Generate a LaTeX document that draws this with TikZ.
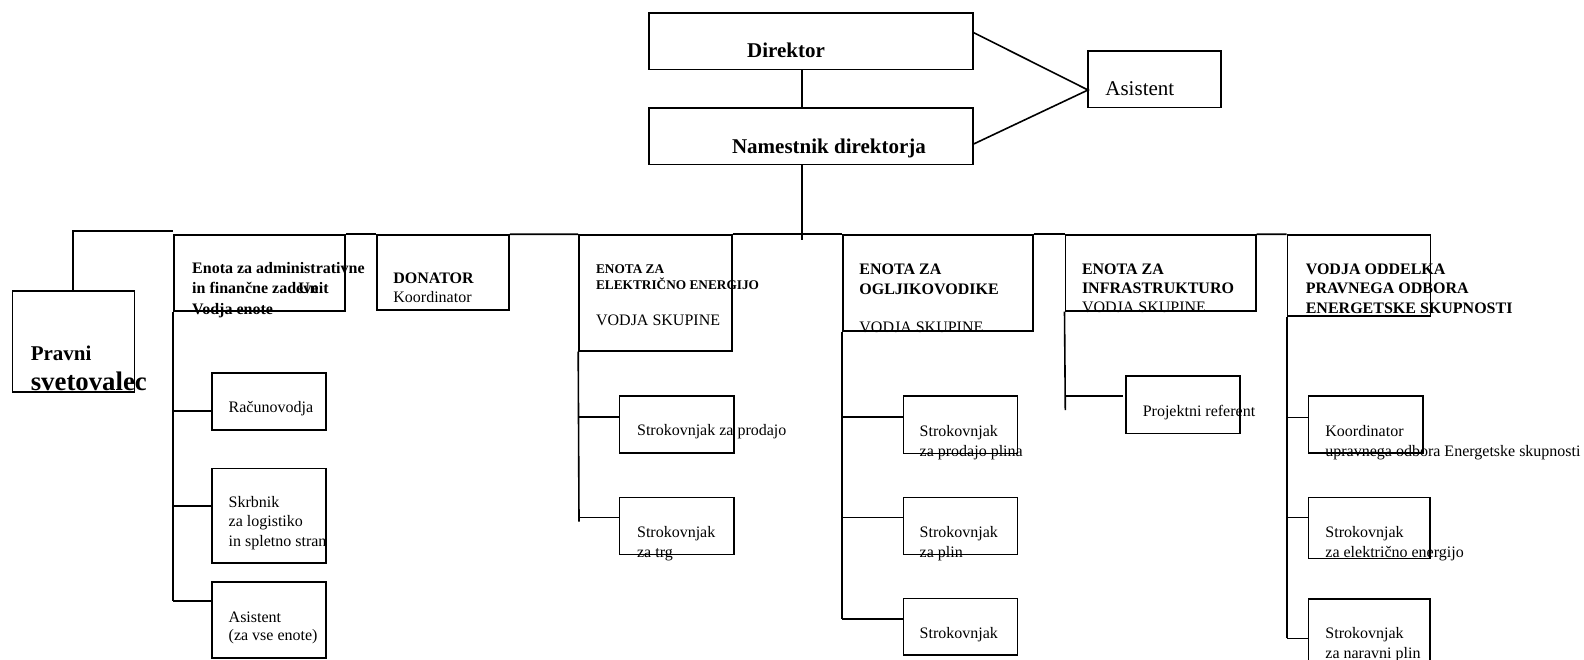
\documentclass[tikz,border=0pt]{standalone}
\usepackage{fontspec}
\setmainfont{Liberation Serif}
\usetikzlibrary{fit,calc}
\newcommand\fTopB{\fontsize{10.5}{12}\selectfont\bfseries}
\newcommand\fTopR{\fontsize{10.5}{12}\selectfont}
\newcommand\fBig{\fontsize{13.4}{15}\selectfont\bfseries}
\newcommand\fMidB{\fontsize{8}{9.6}\selectfont\bfseries}
\newcommand\fMidR{\fontsize{8}{9.6}\selectfont}
\newcommand\fSmB{\fontsize{6.65}{8}\selectfont\bfseries}
\begin{document}
\begin{tikzpicture}[x=0.5pt,y=-0.5pt,
  box/.style={draw,line width=0.8pt,inner sep=0pt,rectangle},
  con/.style={line width=0.8pt},
  txt/.style={inner sep=0pt,anchor=base west,text=black}]
\useasboundingbox (0,0) rectangle (1584,659);
\clip (0,0) rectangle (1584,659);
\fill[white] (0,0) rectangle (1584,659);

% ---- boxes ----
\node[box,fit={(649,12.7)(973,69.3)}] (dir) {};
\node[box,fit={(649,107.7)(973,164.3)}] (nam) {};
\node[box,fit={(1088,50.7)(1221,107.3)}] (asi) {};
\node[box,fit={(12.5,291)(134.6,391.7)}] (prav) {};
\node[box,fit={(174,235)(345,311)}] (adm) {};
\node[box,fit={(377,235)(509,310)}] (don) {};
\node[box,fit={(579,235)(731.7,350.7)}] (el) {};
\node[box,fit={(842.7,235)(1032.7,330.7)}] (ogl) {};
\node[box,fit={(1065.3,235)(1255.8,310.7)}] (inf) {};
\node[box,fit={(1287.5,235)(1430.4,316)}] (vod) {};
\node[box,fit={(211.7,373)(326,430)}] (rac) {};
\node[box,fit={(211.7,468.3)(326,562.7)}] (skr) {};
\node[box,fit={(211.7,581.7)(326,657.7)}] (asv) {};
\node[box,fit={(619.3,395.7)(734,452.7)}] (sp1) {};
\node[box,fit={(619.3,497.3)(734,554.3)}] (sp2) {};
\node[box,fit={(903.3,396)(1017.3,453.3)}] (og1) {};
\node[box,fit={(903.3,497.3)(1017.3,554.3)}] (og2) {};
\node[box,fit={(903.3,598.3)(1017.3,655)}] (og3) {};
\node[box,fit={(1125.7,376)(1240.2,433.3)}] (prj) {};
\node[box,fit={(1308.3,396)(1422.7,452.7)}] (ko1) {};
\node[box,fit={(1308.3,497.3)(1430,558.3)}] (ko2) {};
\node[box,fit={(1308.3,599)(1430,680)}] (ko3) {};

% ---- coordinates for connectors ----
\coordinate (spine) at (802,240);
\coordinate (dirR) at (973,32.3);
\coordinate (namR) at (973,144.3);
\coordinate (asiL) at (1088,90);
\coordinate (pj) at (73.2,230.7);
\coordinate (b-rac) at (211.7,411);
\coordinate (b-skr) at (211.7,506);
\coordinate (b-asv) at (211.7,601);
\coordinate (b-sp1) at (619.3,416.7);
\coordinate (b-sp2) at (619.3,517.3);
\coordinate (e-el) at (579,521.7);
\coordinate (b-og1) at (903.3,416.7);
\coordinate (b-og2) at (903.3,517.3);
\coordinate (b-og3) at (903.3,619);
\coordinate (b-prj) at (1122.6,395.7);
\coordinate (e-inf) at (1065.3,410);
\coordinate (b-ko1) at (1308.3,417.3);
\coordinate (b-ko2) at (1308.3,517.3);
\coordinate (b-ko3) at (1308.3,638.3);

% ---- connectors ----
\draw[con] (dir.south -| spine) -- (nam.north -| spine);
\draw[con] (nam.south -| spine) -- (spine);
\draw[con] (dirR) -- (asiL) -- (namR);
\draw[con] (prav.north -| pj) -- (pj) -- (pj -| adm.west);
\draw[con] (adm.north east) -- (don.north west);
\draw[con] (don.north east) -- (el.north west);
\draw[con] (el.north east) -- (ogl.north west);
\draw[con] (ogl.north east) -- (inf.north west);
\draw[con] (inf.north east) -- (vod.north west);
% admin
\draw[con] (adm.south west) -- (adm.south west |- b-asv);
\draw[con] (adm.west |- b-rac) -- (b-rac);
\draw[con] (adm.west |- b-skr) -- (b-skr);
\draw[con] (adm.west |- b-asv) -- (b-asv);
% electricity
\draw[con] (el.south west) -- (e-el);
\draw[con] (el.west |- b-sp1) -- (b-sp1);
\draw[con] (el.west |- b-sp2) -- (b-sp2);
% hydrocarbons
\draw[con] (ogl.south west) -- (ogl.south west |- b-og3);
\draw[con] (ogl.west |- b-og1) -- (b-og1);
\draw[con] (ogl.west |- b-og2) -- (b-og2);
\draw[con] (ogl.west |- b-og3) -- (b-og3);
% infrastructure
\draw[con] (inf.south west) -- (e-inf);
\draw[con] (inf.west |- b-prj) -- (b-prj);
% legal
\draw[con] (vod.south west) -- (vod.south west |- b-ko3);
\draw[con] (vod.west |- b-ko1) -- (b-ko1);
\draw[con] (vod.west |- b-ko2) -- (b-ko2);
\draw[con] (vod.west |- b-ko3) -- (b-ko3);

% ---- texts ----
\node[txt,anchor=base,font=\fTopB] (tdir) at (786,57) {Direktor};
\node[txt,anchor=base,font=\fTopB] (tnam) at (829,153) {Namestnik direktorja};
\node[txt,font=\fTopR] (tasi) at (1105,95) {Asistent};
\node[txt,font=\fTopB] (tprav1) at (30.4,360) {Pravni};
\node[txt,font=\fBig] (tprav2) at (30.4,390) {svetovalec};

\node[txt,font=\fMidB] (tadm1) at (191.8,273) {Enota za administrativne};
\node[txt,font=\fMidB] (tadm2) at (191.8,293.5) {in finančne zadeve};
\node[txt,font=\fMidB] (tadm3) at (298,293.5) {Unit};
\node[txt,font=\fMidB] (tadm4) at (191.8,314) {Vodja enote};

\node[txt,font=\fMidB] (tdon1) at (393,283.3) {DONATOR};
\node[txt,font=\fMidR] (tdon2) at (393,302.7) {Koordinator};

\node[txt,font=\fSmB] (tel1) at (595.7,273.3) {ENOTA ZA};
\node[txt,font=\fSmB] (tel2) at (595.7,289) {ELEKTRIČNO ENERGIJO};
\node[txt,font=\fMidR] (tel3) at (595.7,325) {VODJA SKUPINE};

\node[txt,font=\fMidB] (togl1) at (859,274.3) {ENOTA ZA};
\node[txt,font=\fMidB] (togl2) at (859,294) {OGLJIKOVODIKE};
\node[txt,font=\fMidR] (togl3) at (859,332.7) {VODJA SKUPINE};

\node[txt,font=\fMidB] (tinf1) at (1081.6,274) {ENOTA ZA};
\node[txt,font=\fMidB] (tinf2) at (1081.6,293.3) {INFRASTRUKTURO};
\node[txt,font=\fMidR] (tinf3) at (1081.6,312.7) {VODJA SKUPINE};

\node[txt,font=\fMidB] (tvod1) at (1305.4,274) {VODJA ODDELKA};
\node[txt,font=\fMidB] (tvod2) at (1305.4,293.3) {PRAVNEGA ODBORA};
\node[txt,font=\fMidB] (tvod3) at (1305.4,313) {ENERGETSKE SKUPNOSTI};

\node[txt,font=\fMidR] (trac) at (228.3,412.7) {Računovodja};
\node[txt,font=\fMidR] (tskr1) at (228.3,507.3) {Skrbnik};
\node[txt,font=\fMidR] (tskr2) at (228.3,526.7) {za logistiko};
\node[txt,font=\fMidR] (tskr3) at (228.3,546) {in spletno stran};
\node[txt,font=\fMidR] (tasv1) at (228.3,622) {Asistent};
\node[txt,font=\fMidR] (tasv2) at (228.3,640) {(za vse enote)};

\node[txt,font=\fMidR] (tsp1) at (636.7,435) {Strokovnjak za prodajo};
\node[txt,font=\fMidR] (tsp2a) at (636.7,537) {Strokovnjak};
\node[txt,font=\fMidR] (tsp2b) at (636.7,557) {za trg};

\node[txt,font=\fMidR] (tog1a) at (919.3,436) {Strokovnjak};
\node[txt,font=\fMidR] (tog1b) at (919.3,456) {za prodajo plina};
\node[txt,font=\fMidR] (tog2a) at (919.3,537) {Strokovnjak};
\node[txt,font=\fMidR] (tog2b) at (919.3,557) {za plin};
\node[txt,font=\fMidR] (tog3) at (919.3,638.3) {Strokovnjak};

\node[txt,font=\fMidR] (tprj) at (1142.4,416) {Projektni referent};

\node[txt,font=\fMidR] (tko1a) at (1325,436) {Koordinator};
\node[txt,font=\fMidR] (tko1b) at (1325,456) {upravnega odbora Energetske skupnosti};
\node[txt,font=\fMidR] (tko2a) at (1325,537) {Strokovnjak};
\node[txt,font=\fMidR] (tko2b) at (1325,557) {za električno energijo};
\node[txt,font=\fMidR] (tko3a) at (1325,638) {Strokovnjak};
\node[txt,font=\fMidR] (tko3b) at (1325,658) {za naravni plin};
\end{tikzpicture}
\end{document}
